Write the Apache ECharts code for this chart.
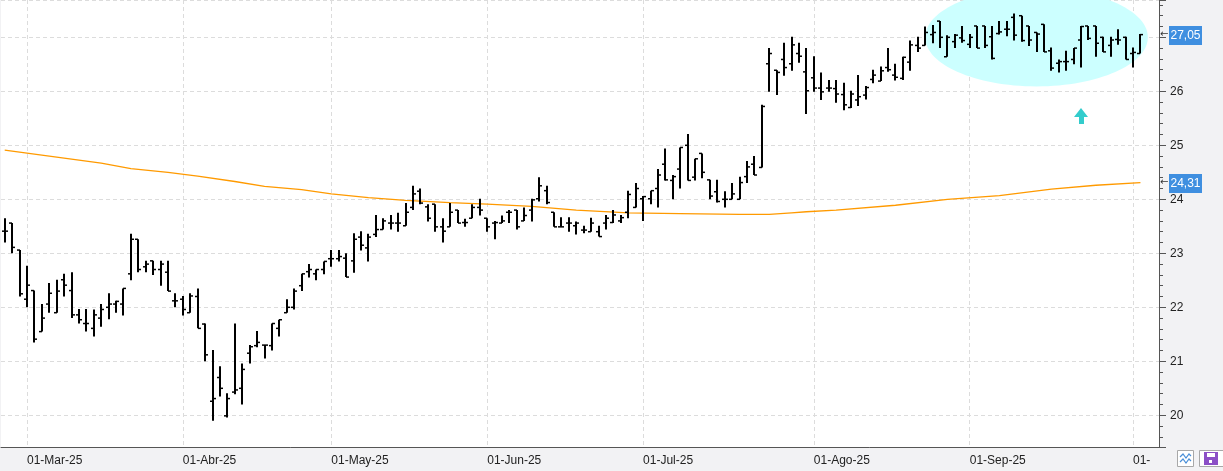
<!DOCTYPE html>
<html>
<head>
<meta charset="utf-8">
<title>Cotización diaria</title>
<script src="https://cdn.jsdelivr.net/npm/echarts@6.0.0/dist/echarts.min.js"></script>
<style>
html, body { margin: 0; padding: 0; background: #f2f2f4; }
#chart { width: 1223px; height: 471px; }
</style>
</head>
<body>
<div id="chart"></div>
<script>
// calendario de sesiones
var startDay = '2025-02-26';
var endDay = '2025-10-02';
var holidays = ['2025-04-18', '2025-04-21', '2025-05-01'];
var tickLabels = ['01-Mar-25', '01-Abr-25', '01-May-25', '01-Jun-25', '01-Jul-25', '01-Ago-25', '01-Sep-25', '01-'];

// OHLC diario
var openP = [23.41,23.56,23.06,22.15,22.31,21.55,22.06,21.90,22.51,22.31,
    21.86,21.70,21.61,21.80,22.00,22.06,22.06,22.62,23.26,22.75,
    22.86,22.70,22.65,22.12,22.15,21.90,22.20,21.69,20.26,20.70,
    19.99,20.43,20.50,21.15,21.29,21.30,21.29,21.61,21.90,22.00,
    22.40,22.66,22.62,22.70,22.90,22.90,22.91,22.86,23.30,23.10,
    23.35,23.44,23.56,23.56,23.51,23.85,24.15,23.86,23.91,23.49,
    23.49,23.80,23.57,23.65,23.85,23.65,23.56,23.56,23.76,23.80,
    23.60,23.80,24.01,24.16,23.76,23.49,23.56,23.51,23.43,23.40,
    23.40,23.56,23.57,23.60,23.76,23.85,24.01,24.01,24.20,24.65,
    24.35,24.56,25.00,24.41,24.85,24.36,24.14,24.00,24.00,24.00,
    24.42,24.65,24.59,26.51,26.39,26.59,26.51,26.70,26.36,26.25,
    26.06,26.06,26.05,25.94,25.70,25.84,25.93,26.22,26.19,26.44,
    26.30,26.24,26.54,26.85,26.85,27.05,27.30,26.64,26.92,26.99,
    26.87,27.21,27.21,27.01,27.07,27.15,27.37,27.40,27.21,27.09,
    27.24,26.75,26.52,26.55,26.59,26.95,27.21,27.21,27.00,26.85,
    26.96,27.00,26.70,26.70];
var highP = [23.65,23.56,23.06,22.77,22.31,22.06,22.45,22.51,22.62,22.65,
    21.97,21.97,21.96,22.06,22.26,22.12,22.35,23.36,23.26,22.86,
    22.86,22.86,22.86,22.26,22.21,22.26,22.35,21.70,21.21,20.91,
    20.41,21.70,20.96,21.30,21.56,21.30,21.70,21.77,22.15,22.35,
    22.62,22.80,22.70,22.85,23.06,23.06,23.00,23.37,23.41,23.36,
    23.71,23.65,23.71,23.75,23.93,24.25,24.20,23.91,23.91,23.65,
    23.93,23.80,23.64,23.91,24.01,23.65,23.60,23.70,23.80,23.80,
    23.85,24.01,24.41,24.25,23.76,23.67,23.67,23.59,23.51,23.66,
    23.51,23.71,23.80,23.71,24.16,24.30,24.06,24.16,24.56,24.94,
    24.45,24.96,25.21,24.75,24.85,24.36,24.36,24.15,24.30,24.42,
    24.71,24.80,25.75,26.80,26.39,26.90,27.01,26.90,26.80,26.65,
    26.35,26.21,26.21,26.16,26.01,26.30,26.10,26.40,26.46,26.80,
    26.51,26.64,26.94,27.01,27.20,27.23,27.30,27.04,27.06,27.21,
    27.06,27.21,27.21,27.21,27.30,27.30,27.44,27.40,27.21,27.09,
    27.24,26.81,26.59,26.75,26.80,27.21,27.21,27.21,27.01,27.01,
    27.15,27.01,26.81,27.06];
var lowP = [23.20,23.00,22.20,22.00,21.35,21.55,21.90,21.90,22.20,21.80,
    21.70,21.55,21.46,21.64,21.78,21.90,21.85,22.50,22.65,22.65,
    22.60,22.40,22.30,22.00,21.85,21.90,21.61,21.00,19.90,20.35,
    19.96,20.39,20.20,20.96,21.26,21.05,21.20,21.46,21.90,21.96,
    22.30,22.55,22.50,22.61,22.75,22.85,22.56,22.64,23.05,22.85,
    23.30,23.44,23.44,23.40,23.51,23.80,23.91,23.59,23.40,23.20,
    23.49,23.56,23.49,23.65,23.70,23.40,23.26,23.56,23.56,23.44,
    23.60,23.59,23.96,23.91,23.49,23.49,23.40,23.35,23.37,23.40,
    23.31,23.44,23.56,23.56,23.65,23.85,23.60,23.91,23.85,24.35,
    24.00,24.20,24.35,24.35,24.39,24.00,23.94,23.85,24.00,24.00,
    24.30,24.45,24.59,25.99,25.93,26.29,26.38,26.53,25.58,25.99,
    25.84,25.99,25.79,25.65,25.69,25.73,25.85,26.15,26.19,26.36,
    26.20,26.21,26.38,26.73,26.85,26.89,26.80,26.64,26.80,26.90,
    26.80,26.80,26.80,26.59,27.05,27.02,26.94,26.92,26.84,26.73,
    26.73,26.38,26.35,26.38,26.50,26.44,26.95,26.64,26.73,26.64,
    26.86,26.59,26.44,26.70];
var closeP = [23.41,23.11,22.25,22.41,21.41,21.80,22.26,22.30,22.41,21.86,
    21.77,21.70,21.86,21.96,22.06,22.11,22.35,23.26,22.70,22.80,
    22.70,22.80,22.30,22.12,21.96,22.21,21.61,21.12,20.31,20.50,
    20.31,20.47,20.85,21.27,21.35,21.30,21.70,21.77,22.00,22.30,
    22.62,22.70,22.70,22.85,22.90,22.94,22.56,23.26,23.15,23.30,
    23.44,23.60,23.56,23.56,23.76,24.10,23.93,23.65,23.49,23.41,
    23.76,23.56,23.57,23.85,23.80,23.49,23.57,23.60,23.76,23.49,
    23.70,23.99,24.25,23.94,23.49,23.49,23.56,23.56,23.43,23.56,
    23.31,23.65,23.71,23.66,24.09,24.20,24.05,24.16,24.45,24.36,
    24.42,24.96,24.35,24.75,24.50,24.06,23.96,24.00,24.10,24.31,
    24.60,24.45,25.72,26.70,26.35,26.44,26.86,26.65,26.01,26.06,
    25.99,26.06,25.95,25.75,25.95,25.90,26.07,26.30,26.38,26.40,
    26.26,26.63,26.86,26.80,27.09,27.09,27.00,27.00,27.04,26.94,
    27.00,26.80,26.85,26.61,27.10,27.15,27.04,26.94,26.95,27.06,
    26.73,26.43,26.55,26.55,26.80,27.20,26.98,26.89,26.73,26.95,
    26.95,26.59,26.72,27.05];

var maAt = [0, 6, 13, 17, 22, 26, 31, 35, 40, 44, 49, 54, 60, 65, 71, 77, 84, 91, 99, 103, 106, 108, 112, 120, 127, 134, 141, 147, 153];
var maValues = [24.91, 24.80, 24.67, 24.57, 24.50, 24.43, 24.33, 24.24, 24.18, 24.10, 24.03, 23.98, 23.94, 23.91, 23.87, 23.80, 23.75, 23.735, 23.72, 23.72, 23.75, 23.77, 23.80, 23.89, 24.00, 24.07, 24.19, 24.26, 24.31];

// dibujos (en coordenadas de datos)
var ringCenter = [138.5, 27.0];
var ringHalf = [15.5, 0.91];
var arrowTip = [145, 25.70];

function tradingDays(from, to, skip) {
    var out = [];
    var d = new Date(from + 'T00:00:00Z');
    var last = new Date(to + 'T00:00:00Z');
    while (d <= last) {
        var s = d.toISOString().slice(0, 10);
        var wd = d.getUTCDay();
        if (wd !== 0 && wd !== 6 && skip.indexOf(s) < 0) out.push(s);
        d.setUTCDate(d.getUTCDate() + 1);
    }
    return out;
}

var days = tradingDays(startDay, endDay, holidays);
var monthFirst = {};
var m = 0;
for (var i = 1; i < days.length; i++) {
    if (days[i].slice(5, 7) !== days[i - 1].slice(5, 7)) monthFirst[i] = tickLabels[m++];
}
function isFirst(index) { return monthFirst.hasOwnProperty(index); }

var categories = days.concat([' ', '  ']);
var ohlcData = days.map(function (d, i) { return [i, openP[i], highP[i], lowP[i], closeP[i]]; });
var maData = maAt.map(function (k, i) { return [k, maValues[i]]; });

var FONT = 'Liberation Sans';

function renderOhlc(params, api) {
    var x = api.value(0);
    var o = api.coord([x, api.value(1)]);
    var h = api.coord([x, api.value(2)]);
    var l = api.coord([x, api.value(3)]);
    var c = api.coord([x, api.value(4)]);
    var cx = Math.round(h[0]);
    var ink = { stroke: '#000', lineWidth: 2 };
    var tick = { stroke: '#000', lineWidth: 1.5 };
    return {
        type: 'group',
        children: [
            { type: 'line', shape: { x1: cx, y1: h[1], x2: cx, y2: l[1] }, style: ink },
            { type: 'line', shape: { x1: cx - 3, y1: o[1], x2: cx, y2: o[1] }, style: tick },
            { type: 'line', shape: { x1: cx, y1: c[1], x2: cx + 3, y2: c[1] }, style: tick }
        ]
    };
}

var dash = { color: '#dcdcdc', type: [4, 3], width: 1 };

var option = {
    animation: false,
    backgroundColor: '#f2f2f4',
    grid: {
        left: 1, right: 64, top: 0, bottom: 24,
        show: true, backgroundColor: '#ffffff', borderWidth: 0
    },
    xAxis: {
        type: 'category',
        data: categories,
        boundaryGap: true,
        axisLine: { lineStyle: { color: '#555', width: 1 } },
        axisTick: { interval: isFirst, alignWithLabel: true, length: 6, lineStyle: { color: '#555' } },
        axisLabel: {
            interval: isFirst,
            align: 'left',
            margin: 8,
            color: '#222',
            fontFamily: FONT,
            fontSize: 12,
            formatter: function (v, idx) { return monthFirst[idx] || ''; }
        },
        splitLine: { show: true, interval: isFirst, alignWithLabel: true, lineStyle: dash }
    },
    yAxis: {
        type: 'value',
        position: 'right',
        min: 19.413,
        max: 27.691,
        splitNumber: 8,
        axisLine: { show: true, lineStyle: { color: '#555', width: 1 } },
        axisTick: { show: true, length: 7, lineStyle: { color: '#555' } },
        minorTick: { show: true, splitNumber: 5, length: 4, lineStyle: { color: '#555' } },
        axisLabel: {
            margin: 11,
            color: '#222',
            fontFamily: FONT,
            fontSize: 12,
            showMinLabel: false,
            showMaxLabel: false,
            formatter: function (v) { return Math.abs(v - Math.round(v)) < 1e-6 ? String(Math.round(v)) : ''; }
        },
        splitLine: { show: true, lineStyle: dash }
    },
    series: [
        {
            name: 'Media',
            type: 'line',
            data: maData,
            showSymbol: false,
            smooth: false,
            lineStyle: { color: '#ff9a00', width: 1.3 },
            z: 3
        },
        {
            name: 'OHLC',
            type: 'custom',
            renderItem: renderOhlc,
            data: ohlcData,
            encode: { x: 0, y: [1, 2, 3, 4] },
            z: 4
        }
    ]
};

var chart = echarts.init(document.getElementById('chart'));
chart.setOption(option);

// etiquetas de precio y dibujos
function px(p) { return chart.convertToPixel({ xAxisIndex: 0, yAxisIndex: 0 }, p); }

function priceTag(value, color) {
    var p = px([days.length - 1, value]);
    var axisX = chart.getWidth() - 64;
    return [
        { type: 'text', x: axisX + 1, y: p[1], z: 20,
          style: { text: '←', fill: '#333', font: '10px DejaVu Sans', verticalAlign: 'middle' } },
        { type: 'rect', shape: { x: axisX + 10, y: Math.round(p[1]) - 9, width: 33, height: 19 }, z: 20,
          style: { fill: '#3f8fe0' } },
        { type: 'text', x: axisX + 26.5, y: Math.round(p[1]) + 0.5, z: 21,
          style: { text: value.toFixed(2).replace('.', ','), fill: '#fff', font: '12px ' + FONT,
                   align: 'center', verticalAlign: 'middle' } }
    ];
}

var c0 = px(ringCenter);
var cx1 = px([ringCenter[0] + ringHalf[0], ringCenter[1] + ringHalf[1]]);
var tip = px(arrowTip);
var tx = Math.round(tip[0]), ty = Math.round(tip[1]);

var graphics = [
    { type: 'ellipse', z: 1, shape: { cx: c0[0], cy: c0[1], rx: cx1[0] - c0[0], ry: c0[1] - cx1[1] },
      style: { fill: '#ccffff' } },
    { type: 'polygon', z: 10,
      shape: { points: [[tx, ty], [tx + 7, ty + 9], [tx + 3, ty + 9], [tx + 3, ty + 16], [tx - 2, ty + 16], [tx - 2, ty + 9], [tx - 7, ty + 9]] },
      style: { fill: '#33cccc' } },
    // botones inferiores
    { type: 'rect', z: 10, shape: { x: 1177.5, y: 450.5, width: 16, height: 16 }, style: { fill: '#fff', stroke: '#a8a8a8' } },
    { type: 'polyline', z: 11, shape: { points: [[1180, 457], [1183, 454], [1186, 458], [1189, 454], [1191, 456]] }, style: { stroke: '#4a8fd8', lineWidth: 1.2, fill: null } },
    { type: 'polyline', z: 11, shape: { points: [[1180, 462], [1183, 459], [1186, 463], [1189, 459], [1191, 461]] }, style: { stroke: '#4a8fd8', lineWidth: 1.2, fill: null } },
    { type: 'rect', z: 10, shape: { x: 1199.5, y: 450.5, width: 24, height: 16 }, style: { fill: '#fff', stroke: '#a8a8a8' } },
    { type: 'rect', z: 11, shape: { x: 1204, y: 452, width: 14, height: 13 }, style: { fill: '#8b4fc6' } },
    { type: 'rect', z: 12, shape: { x: 1207, y: 453, width: 8, height: 4 }, style: { fill: '#fff' } },
    { type: 'rect', z: 12, shape: { x: 1209, y: 460, width: 3, height: 3 }, style: { fill: '#fff' } }
];
graphics = graphics.concat(priceTag(closeP[closeP.length - 1]), priceTag(maValues[maValues.length - 1]));

chart.setOption({ graphic: graphics });
</script>
</body>
</html>
